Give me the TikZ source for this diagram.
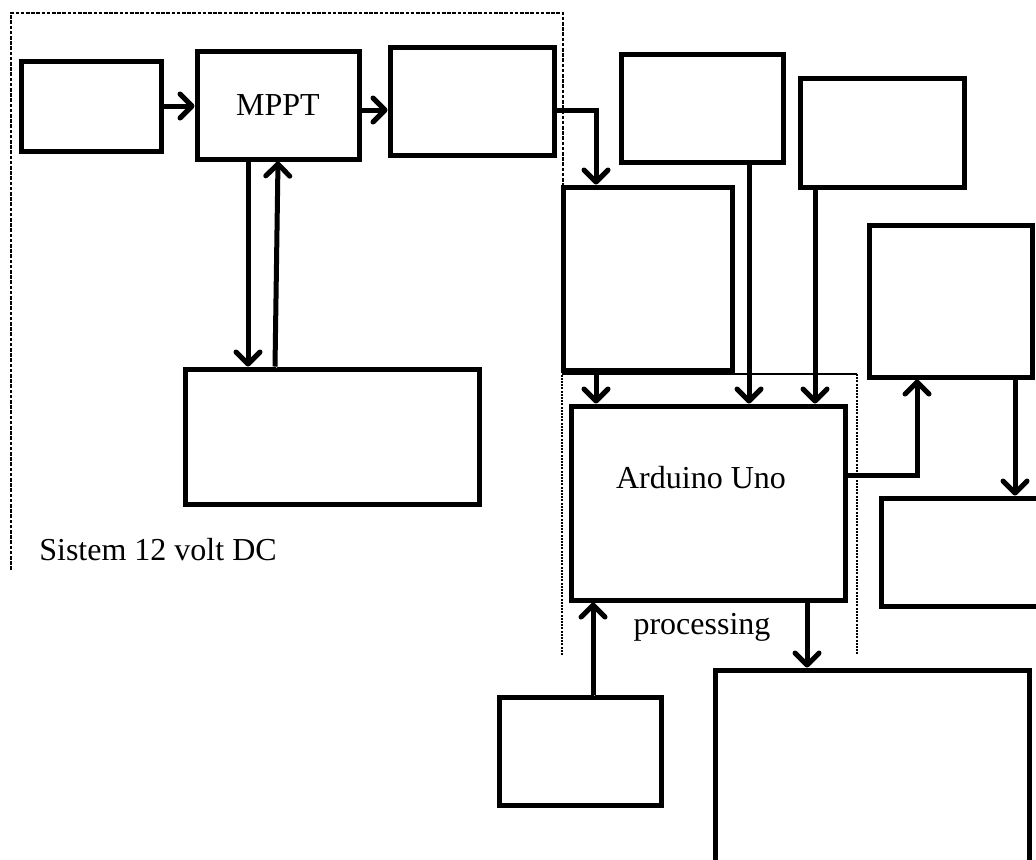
\documentclass[tikz,border=0pt]{standalone}
\usepackage{fontspec}
\setmainfont{Liberation Serif}
\usetikzlibrary{arrows.meta,calc}

\begin{document}
\begin{tikzpicture}[
    x=0.5pt, y=-0.5pt,
    blok/.style={draw, line width=2.5pt, inner sep=0pt, fill=white, font=\fontsize{16}{19}\selectfont},
    arrow/.style={-{Straight Barb[length=6pt,width=12pt,round]}, line width=2.5pt,
        preaction={draw=black!30, transform canvas={shift={(0.8pt,-0.8pt)}}}},
    lbl/.style={font=\fontsize{16}{19}\selectfont, inner sep=0pt},
    sysframe/.style={line width=0.6pt, dash pattern=on 1.8pt off 0.8pt},
    procframe/.style={line width=0.6pt, dash pattern=on 1pt off 0.6pt}
]
\clip (0,0) rectangle (1036,859);

% frames
\draw[sysframe] (11,570) -- (11,13) -- (563,13) -- (563,185);
\draw[procframe] (562,655) -- (562,374);
\draw[procframe] (857,374) -- (857,655);
\draw[line width=0.8pt] (562,374) -- (857,374);

% boxes
\node[blok, minimum width=70pt, minimum height=45pt] (panel) at (91,106) {};
\node[blok, minimum width=81pt, minimum height=54pt] (mppt) at (278,105) {MPPT};
\node[blok, minimum width=82pt, minimum height=54pt] (beban) at (472,101) {};
\node[blok, minimum width=147pt, minimum height=67.5pt] (aki) at (332,436.5) {};
\node[blok, minimum width=81pt, minimum height=54pt] (sensB) at (702,108) {};
\node[blok, minimum width=82pt, minimum height=54.5pt] (sensC) at (882,132.5) {};
\node[blok, minimum width=84.5pt, minimum height=91.5pt] (sensA) at (647.5,278.5) {};
\node[blok, minimum width=81.5pt, minimum height=76pt] (relay) at (950.5,301) {};
\node[blok, minimum width=137pt, minimum height=97pt] (ard) at (708,503) {};
\node[blok, minimum width=84pt, minimum height=54pt] (aktuator) at (965,552) {};
\node[blok, minimum width=81pt, minimum height=54pt] (tombol) at (580,751) {};
\node[blok, minimum width=157pt, minimum height=105pt] (tampil) at (872,775) {};

% labels
\node[lbl] (ardlbl) at ($(ard)+(-7,-25)$) {Arduino Uno};
\node[lbl] (proclbl) at (702,627) {processing};
\node[lbl] (syslbl) at (158,550) {Sistem 12 volt DC};

% connectors
\draw[arrow] (panel.east) -- (panel.east -| mppt.west);
\draw[arrow] ($(mppt.east)+(0,5)$) -- ($(beban.west)+(0,9)$);
\draw[arrow] ($(beban.east)+(0,9)$) -| ($(sensA.north)+(-51.5,0)$);
\draw[arrow] ($(mppt.south)+(-30,0)$) -- ($(aki.north)+(-84,0)$);
\draw[arrow] ($(aki.north)+(-57,0)$) -- (mppt.south);
\draw[arrow] ($(sensA.south)+(-51.5,0)$) -- ($(ard.north)+(-112,0)$);
\draw[arrow] ($(sensB.south)+(47,0)$) -- ($(ard.north)+(41,0)$);
\draw[arrow] ($(sensC.south)+(-67,0)$) -- ($(ard.north)+(107,0)$);
\draw[arrow] ($(ard.east)+(0,-28)$) -| ($(relay.south)+(-33.5,0)$);
\draw[arrow] ($(relay.south)+(64.5,0)$) -- ($(aktuator.north)+(50,0)$);
\draw[arrow] ($(tombol.north)+(13,0)$) -- ($(ard.south)+(-115,0)$);
\draw[arrow] ($(ard.south)+(99,0)$) -- ($(tampil.north)+(-65,0)$);
\end{tikzpicture}
\end{document}
